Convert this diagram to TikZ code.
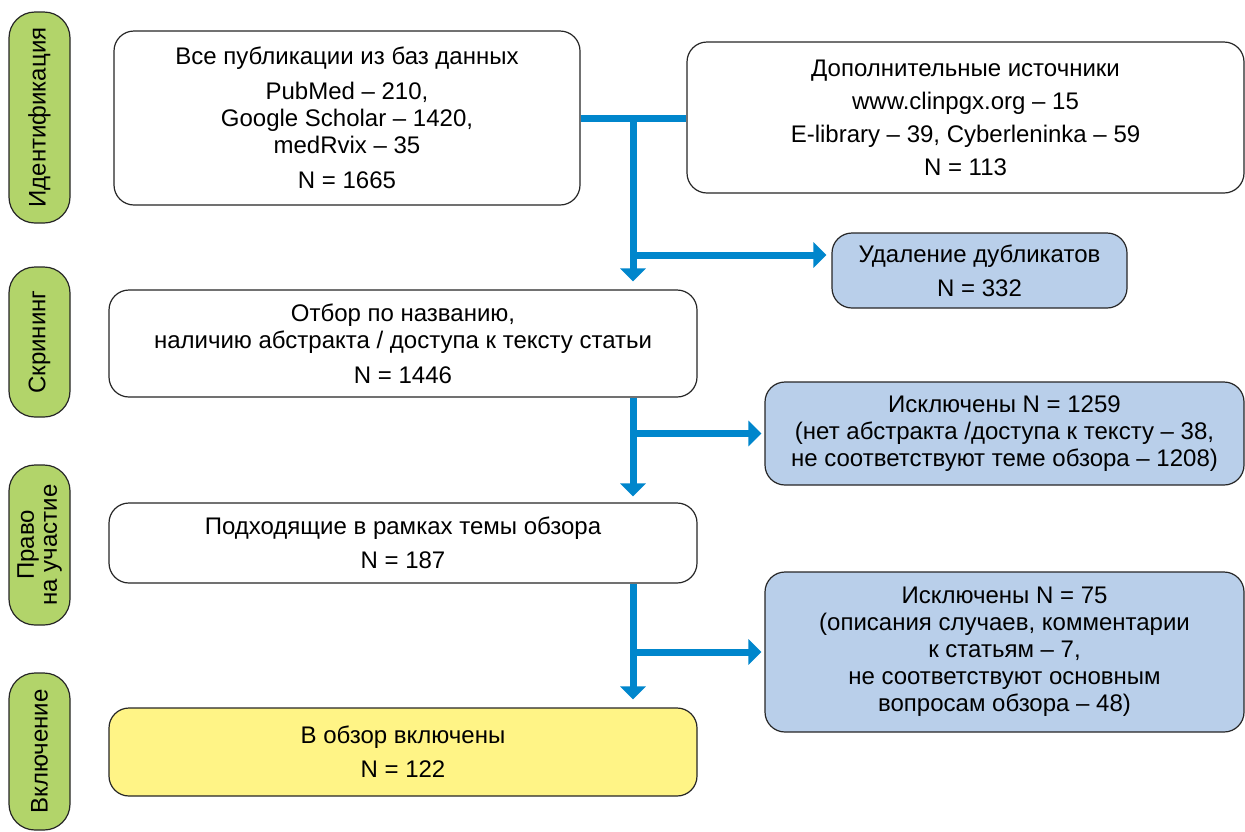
\documentclass[tikz,border=0pt]{standalone}
\usepackage{fontspec}
\setmainfont{Liberation Sans}
\usetikzlibrary{arrows.meta}
\definecolor{flowblue}{RGB}{0,134,204}
\definecolor{stagegreen}{RGB}{178,212,106}
\definecolor{exclblue}{RGB}{185,207,234}
\definecolor{inclyellow}{RGB}{255,244,134}
\tikzset{
  txt/.style={font=\fontsize{12}{13.5}\selectfont},
  box/.style={txt, draw=black!85, line width=0.6pt, rounded corners=10pt, fill=white, inner sep=0pt, align=center},
  exbox/.style={box, fill=exclblue},
  inbox/.style={box, fill=inclyellow},
  stage/.style={txt, draw=black!85, line width=0.6pt, rounded corners=13pt, fill=stagegreen, inner sep=0pt, align=center, rotate=90, minimum height=30.5pt},
  flow/.style={draw=flowblue, line width=3.5pt},
  flowarrow/.style={flow, -{Triangle[width=12.5pt,length=6.5pt]}}
}
\begin{document}
\begin{tikzpicture}[x=0.5pt,y=-0.5pt]
\useasboundingbox (0,0) rectangle (1245,831);

% stage labels
\node[stage, minimum width=105.5pt] (s1) at (39.5,117.5) {Идентификация};
\node[stage, minimum width=75pt] (s2) at (39.5,342) {Скрининг};
\node[stage, minimum width=80pt, font=\fontsize{12}{11.5}\selectfont] (s3) at (39.5,545) {Право\\на участие};
\node[stage, minimum width=78.5pt] (s4) at (39.5,751.5) {Включение};

% main boxes
\node[box, minimum width=233pt, minimum height=87pt] (b1) at (347,118)
  {Все публикации из баз данных\\[4pt]PubMed – 210,\\Google Scholar – 1420,\\medRvix – 35\\[4pt]N = 1665};
\node[box, minimum width=278.5pt, minimum height=75.5pt] (b2) at (965.5,117.5)
  {Дополнительные источники\\[3pt]www.clinpgx.org – 15\\[3pt]E-library – 39, Cyberleninka – 59\\[3pt]N = 113};
\node[exbox, minimum width=147.5pt, minimum height=37.5pt] (dup) at (979.5,270.5)
  {Удаление дубликатов\\[3.5pt]N = 332};
\node[box, minimum width=294pt, minimum height=53.5pt] (scr) at (403,343.5)
  {Отбор по названию,\\наличию абстракта / доступа к тексту статьи\\[4pt]N = 1446};
\node[exbox, minimum width=239.5pt, minimum height=51.5pt] (ex1) at (1004.5,433.5)
  {Исключены N = 1259\\(нет абстракта /доступа к тексту – 38,\\не соответствуют теме обзора – 1208)};
\node[box, minimum width=294pt, minimum height=40pt] (elig) at (403,543)
  {Подходящие в рамках темы обзора\\[3.5pt]N = 187};
\node[exbox, minimum width=239.5pt, minimum height=80pt] (ex2) at (1004.5,652)
  {Исключены N = 75\\(описания случаев, комментарии\\к статьям – 7,\\не соответствуют основным\\вопросам обзора – 48)};
\node[inbox, minimum width=294pt, minimum height=44pt] (inc) at (403,752)
  {В обзор включены\\[3.5pt]N = 122};

% connectors
\coordinate (j1) at (633,118);
\coordinate (j2) at (633,255);
\coordinate (j3) at (633,433.5);
\coordinate (j4) at (633,652);
\draw[flow] (b1.east |- j1) -- (b2.west |- j1);
\draw[flowarrow, shorten >=4pt] (j1) -- (j1 |- scr.north);
\draw[flowarrow, shorten >=2.5pt] (j2) -- (j2 -| dup.west);
\draw[flowarrow, shorten >=3pt] (j1 |- scr.south) -- (j1 |- elig.north);
\draw[flowarrow, shorten >=1.5pt] (j3) -- (j3 -| ex1.west);
\draw[flowarrow, shorten >=4pt] (j1 |- elig.south) -- (j1 |- inc.north);
\draw[flowarrow, shorten >=1.5pt] (j4) -- (j4 -| ex2.west);
\end{tikzpicture}
\end{document}
